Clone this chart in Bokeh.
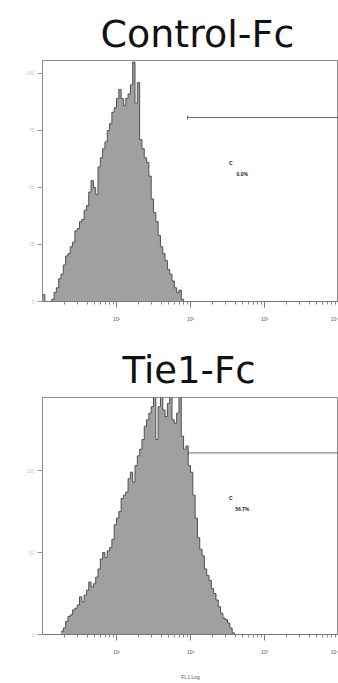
from bokeh.plotting import figure
from bokeh.models import Range1d, FixedTicker, Label
from bokeh.layouts import column
from bokeh.embed import file_html
from bokeh.resources import INLINE

# ---------------- data ----------------
panel_titles = ["Control-Fc", "Tie1-Fc"]
channels_per_decade = 32

ctrl_first_channel = 0
ctrl_counts = [3, 0, 0, 0,
               1, 4, 6, 10, 12, 16, 20, 21, 24, 26, 31, 32, 35, 36, 40, 42,
               48, 53, 50, 47, 59, 63, 67, 70, 75, 78, 83, 85, 89, 93, 89, 86,
               89, 91, 95, 105, 87, 96, 71, 67, 63, 61, 55, 45, 39, 35, 29, 24,
               21, 18, 14, 12, 9, 6, 4, 5, 1]

tie_first_channel = 8
tie_counts = [2, 4, 8, 11, 12, 15, 16, 18, 23, 20, 24, 27, 32, 29, 31, 35,
              40, 46, 50, 47, 51, 53, 58, 67, 71, 75, 83, 85, 87, 95, 99, 93,
              103, 109, 113, 119, 127, 131, 135, 139, 145, 119, 139, 145, 137,
              133, 141, 145, 131, 129, 135, 145, 121, 113, 115, 103, 99, 85,
              71, 59, 52, 48, 40, 36, 33, 28, 25, 21, 17, 13, 10, 9, 7, 4, 1]

x_tick_values = [10, 100, 1000, 10000]
x_tick_labels = ["10\u00b9", "10\u00b2", "10\u00b3", "10\u2074"]
ctrl_y_ticks = [0, 25, 50, 75, 100]
tie_y_ticks = [0, 50, 100]
y_maxima = [105.7, 144.6]
gate_start = [91, 91]
gate_end = [10000, 10000]
gate_level = [80.7, 110.8]
gate_names = ["C", "C"]
gate_percents = ["0.0%", "56.7%"]
x_axis_labels = ["", "FL1 Log"]

# ---------------- styling ----------------
FILL = "#a0a0a2"
EDGE = "#505050"
FRAME = "#8c8c8c"


def make_panel(title, first_ch, counts, y_ticks, ymax, g0, g1, gy,
               gname, gpct, xlabel, height, top_border, bottom_border,
               title_offset, title_size, title_standoff):
    p = figure(width=338, height=height, x_axis_type="log",
               x_range=Range1d(1, 10000), y_range=Range1d(0, ymax),
               output_backend="svg", toolbar_location=None,
               min_border_left=42, min_border_right=0,
               min_border_top=top_border, min_border_bottom=bottom_border)
    p.background_fill_color = "white"
    p.border_fill_color = "white"
    p.outline_line_color = FRAME
    p.grid.visible = False

    p.title.text = title
    p.title.text_font = "DejaVu Sans"
    p.title.text_font_size = title_size
    p.title.text_font_style = "normal"
    p.title.text_color = "#111111"
    p.title.align = "left"
    p.title.offset = title_offset
    p.title.standoff = title_standoff

    left = [10 ** ((first_ch + i) / channels_per_decade) for i in range(len(counts))]
    right = [10 ** ((first_ch + i + 1) / channels_per_decade) for i in range(len(counts))]
    xs = left + [right[-1]]
    ys = counts + [0]
    p.varea_step(x=xs, y1=[0] * len(xs), y2=ys, step_mode="after", fill_color=FILL)
    p.step(x=xs, y=ys, mode="after", line_color=EDGE, line_width=1)

    # gate marker
    p.segment(x0=[g0], y0=[gy], x1=[g1], y1=[gy], line_color="#6a6a6a", line_width=1)
    tick_h = ymax * 0.008
    p.segment(x0=[g0], y0=[gy - tick_h], x1=[g0], y1=[gy + tick_h],
              line_color="#6a6a6a", line_width=1)
    p.add_layout(Label(x=350, y=gy - ymax * 0.19, text=gname, text_font_size="5px",
                       text_color="#222222", text_font_style="bold",
                       text_align="center", text_baseline="middle"))
    p.add_layout(Label(x=500, y=gy - ymax * 0.235, text=gpct, text_font_size="5px",
                       text_color="#222222", text_font_style="bold",
                       text_align="center", text_baseline="middle"))

    xa = p.xaxis[0]
    xa.ticker = FixedTicker(ticks=x_tick_values,
                            minor_ticks=[k * 10 ** d for d in range(0, 4) for k in range(2, 10)])
    xa.major_label_overrides = dict(zip(x_tick_values, x_tick_labels))
    xa.major_label_text_font_size = "5px"
    xa.major_label_text_color = "#555555"
    xa.major_label_standoff = 8
    xa.major_tick_out = 6
    xa.major_tick_in = 0
    xa.minor_tick_out = 3
    xa.minor_tick_in = 0
    xa.axis_line_color = "#777777"
    xa.major_tick_line_color = "#777777"
    xa.minor_tick_line_color = "#888888"
    if xlabel:
        xa.axis_label = xlabel
        xa.axis_label_text_font_size = "5px"
        xa.axis_label_text_font_style = "normal"
        xa.axis_label_text_color = "#555555"
        xa.axis_label_standoff = 16

    ya = p.yaxis[0]
    ya.ticker = FixedTicker(ticks=y_ticks)
    ya.major_label_text_font_size = "5px"
    ya.major_label_text_color = "#c8c8c8"
    ya.major_label_standoff = 3
    ya.major_tick_out = 5
    ya.major_tick_in = 0
    ya.minor_tick_line_color = None
    ya.axis_line_color = FRAME
    ya.major_tick_line_color = "#999999"
    return p


p1 = make_panel(panel_titles[0], ctrl_first_channel, ctrl_counts, ctrl_y_ticks,
                y_maxima[0], gate_start[0], gate_end[0],
                gate_level[0], gate_names[0], gate_percents[0], x_axis_labels[0],
                height=340, top_border=60, bottom_border=39, title_offset=58,
                title_size="38px", title_standoff=9)
p2 = make_panel(panel_titles[1], tie_first_channel, tie_counts, tie_y_ticks,
                y_maxima[1], gate_start[1], gate_end[1],
                gate_level[1], gate_names[1], gate_percents[1], x_axis_labels[1],
                height=342, top_border=57, bottom_border=45, title_offset=80,
                title_size="37px", title_standoff=11)

layout = column(p1, p2, spacing=0)
open("out.html", "w").write(file_html(layout, INLINE))
